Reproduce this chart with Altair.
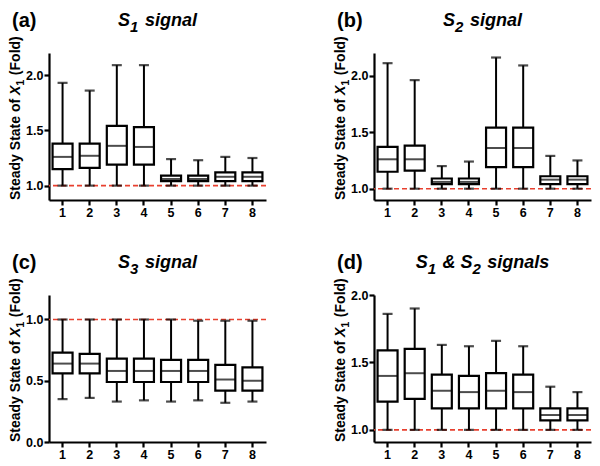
import altair as alt
import pandas as pd

cats = ["1", "2", "3", "4", "5", "6", "7", "8"]

# Panel (a): S1 signal
a_lo = [1.0, 1.0, 1.0, 1.0, 1.0, 1.0, 1.0, 1.0]
a_q1 = [1.15, 1.16, 1.19, 1.19, 1.04, 1.04, 1.04, 1.04]
a_med = [1.26, 1.27, 1.36, 1.35, 1.06, 1.06, 1.08, 1.08]
a_q3 = [1.38, 1.38, 1.54, 1.53, 1.09, 1.09, 1.12, 1.12]
a_hi = [1.93, 1.86, 2.09, 2.09, 1.24, 1.23, 1.26, 1.25]

# Panel (b): S2 signal
b_lo = [1.0, 1.0, 1.0, 1.0, 1.0, 1.0, 1.0, 1.0]
b_q1 = [1.15, 1.16, 1.04, 1.04, 1.19, 1.19, 1.04, 1.04]
b_med = [1.26, 1.26, 1.06, 1.06, 1.36, 1.36, 1.08, 1.08]
b_q3 = [1.37, 1.38, 1.09, 1.09, 1.54, 1.54, 1.11, 1.11]
b_hi = [2.11, 1.96, 1.20, 1.24, 2.16, 2.09, 1.29, 1.25]

# Panel (c): S3 signal
c_lo = [0.35, 0.36, 0.33, 0.34, 0.33, 0.34, 0.32, 0.33]
c_q1 = [0.56, 0.56, 0.49, 0.49, 0.49, 0.49, 0.42, 0.42]
c_med = [0.64, 0.64, 0.58, 0.58, 0.58, 0.58, 0.51, 0.50]
c_q3 = [0.73, 0.72, 0.68, 0.68, 0.67, 0.67, 0.63, 0.61]
c_hi = [1.0, 1.0, 1.0, 1.0, 1.0, 0.99, 0.99, 0.99]

# Panel (d): S1 & S2 signals
d_lo = [1.0, 1.0, 1.0, 1.0, 1.0, 1.0, 1.0, 1.0]
d_q1 = [1.21, 1.23, 1.16, 1.16, 1.16, 1.16, 1.07, 1.07]
d_med = [1.40, 1.42, 1.29, 1.28, 1.29, 1.28, 1.11, 1.11]
d_q3 = [1.59, 1.60, 1.41, 1.40, 1.42, 1.41, 1.16, 1.16]
d_hi = [1.86, 1.90, 1.63, 1.62, 1.66, 1.62, 1.32, 1.28]

ref_line = [1.0]

# Title pieces: (text, is_subscript)
title_a = [("S", False), ("1", True), (" signal", False)]
title_b = [("S", False), ("2", True), (" signal", False)]
title_c = [("S", False), ("3", True), (" signal", False)]
title_d = [("S", False), ("1", True), (" & ", False), ("S", False), ("2", True), (" signals", False)]
ytitle = [("Steady State of ", "n"), ("X", "i"), ("1", "s"), (" (Fold)", "n")]

FONT = "Liberation Sans"
W, H = 217, 147

# approximate advance widths (em) of Arial/Liberation Sans Bold
CW = {"S": 0.667, " ": 0.278, "s": 0.556, "i": 0.278, "g": 0.611, "n": 0.611, "a": 0.556,
      "l": 0.278, "&": 0.722, "t": 0.333, "e": 0.556, "d": 0.611, "y": 0.556, "o": 0.611,
      "f": 0.333, "X": 0.667, "(": 0.333, "F": 0.611, ")": 0.333}


def tw(s, fs):
    return sum(CW.get(ch, 0.556) for ch in s) * fs


def txt(s, **kw):
    return alt.Chart(pd.DataFrame({"t": [s]})).mark_text(font=FONT, fontWeight="bold",
                                                          color="black", **kw)


def title_layers(pieces, fs=18, sfs=15, ybase=-27, sub_drop=6):
    total = sum(tw(t, sfs if sub else fs) + (1.5 if sub else 0) for t, sub in pieces)
    x = W / 2 - total / 2
    out = []
    for t, sub in pieces:
        f = sfs if sub else fs
        lead = len(t) - len(t.lstrip(" "))
        core = t.strip(" ")
        out.append(txt(core, fontSize=f, fontStyle="italic", align="left", baseline="alphabetic")
                   .encode(text="t:N", x=alt.value(x + tw(" " * lead, f)),
                           y=alt.value(ybase + (sub_drop if sub else 0))))
        x += tw(t, f) + (1.5 if sub else 0)
    return out


def ytitle_layers(fs=14, sfs=11, xbase=-29):
    y = H
    out = []
    for t, kind in ytitle:
        f = sfs if kind == "s" else fs
        lead = len(t) - len(t.lstrip(" "))
        core = t.strip(" ")
        kw = dict(fontSize=f, angle=270, align="left", baseline="alphabetic")
        if kind == "i":
            kw["fontStyle"] = "italic"
        out.append(txt(core, **kw).encode(
            text="t:N", x=alt.value(xbase + (3.5 if kind == "s" else 0)),
            y=alt.value(y - tw(" " * lead, f))))
        y -= tw(t, f) + (0.5 if kind == "s" else 0)
    return out


def panel(label, tpieces, lo, q1, med, q3, hi, domain, ticks):
    df = pd.DataFrame({"cat": cats, "lo": lo, "q1": q1, "med": med, "q3": q3, "hi": hi})
    base = alt.Chart(df)
    xenc = alt.X("cat:N", sort=cats, scale=alt.Scale(paddingInner=0, paddingOuter=0),
                 axis=alt.Axis(title=None, labelAngle=0))
    yscale = alt.Scale(domain=domain, nice=False, zero=False)
    yaxis = alt.Axis(values=ticks, format=".1f", title=None)

    ref = alt.Chart(pd.DataFrame({"v": ref_line})).mark_rule(
        color="#e8402f", strokeDash=[5, 3], strokeWidth=1.6
    ).encode(y=alt.Y("v:Q", scale=yscale, axis=yaxis))
    whisk = base.mark_rule(color="black", strokeWidth=2).encode(
        x=xenc, y=alt.Y("lo:Q", scale=yscale, axis=yaxis), y2="hi:Q")
    box = base.mark_bar(width=20, fill="white", stroke="black", strokeWidth=2.2).encode(
        x=xenc, y=alt.Y("q1:Q", scale=yscale, axis=yaxis), y2="q3:Q")
    medt = base.mark_tick(size=20, thickness=2, color="black").encode(
        x=xenc, y=alt.Y("med:Q", scale=yscale, axis=yaxis))
    capl = base.mark_tick(size=10, thickness=2.2, color="black").encode(
        x=xenc, y=alt.Y("lo:Q", scale=yscale, axis=yaxis))
    caph = base.mark_tick(size=10, thickness=2.2, color="black").encode(
        x=xenc, y=alt.Y("hi:Q", scale=yscale, axis=yaxis))
    lab = txt(label, fontSize=20, align="left", baseline="top").encode(
        text="t:N", x=alt.value(-37), y=alt.value(-42))

    layers = [ref, whisk, box, medt, capl, caph, lab] + title_layers(tpieces) + ytitle_layers()
    return alt.layer(*layers).properties(width=W, height=H)


pa = panel("(a)", title_a, a_lo, a_q1, a_med, a_q3, a_hi, [0.87, 2.2], [1.0, 1.5, 2.0])
pb = panel("(b)", title_b, b_lo, b_q1, b_med, b_q3, b_hi, [0.9, 2.2], [1.0, 1.5, 2.0])
pc = panel("(c)", title_c, c_lo, c_q1, c_med, c_q3, c_hi, [0.0, 1.2], [0.0, 0.5, 1.0])
pd_ = panel("(d)", title_d, d_lo, d_q1, d_med, d_q3, d_hi, [0.91, 2.0], [1.0, 1.5, 2.0])

chart = alt.vconcat(
    alt.hconcat(pa, pb, spacing=66),
    alt.hconcat(pc, pd_, spacing=66),
    spacing=34,
).configure_axis(
    domainColor="black", domainWidth=2.2, tickColor="black", tickWidth=2.2, tickSize=5,
    labelFont=FONT, labelFontSize=12.5, labelFontWeight="bold", labelColor="black",
    grid=False, labelPadding=1,
).configure_view(stroke=None).properties(padding={"left": 0, "top": 3, "right": 0, "bottom": 0})

chart.save("out.html", embed_options={"renderer": "svg", "actions": False})
